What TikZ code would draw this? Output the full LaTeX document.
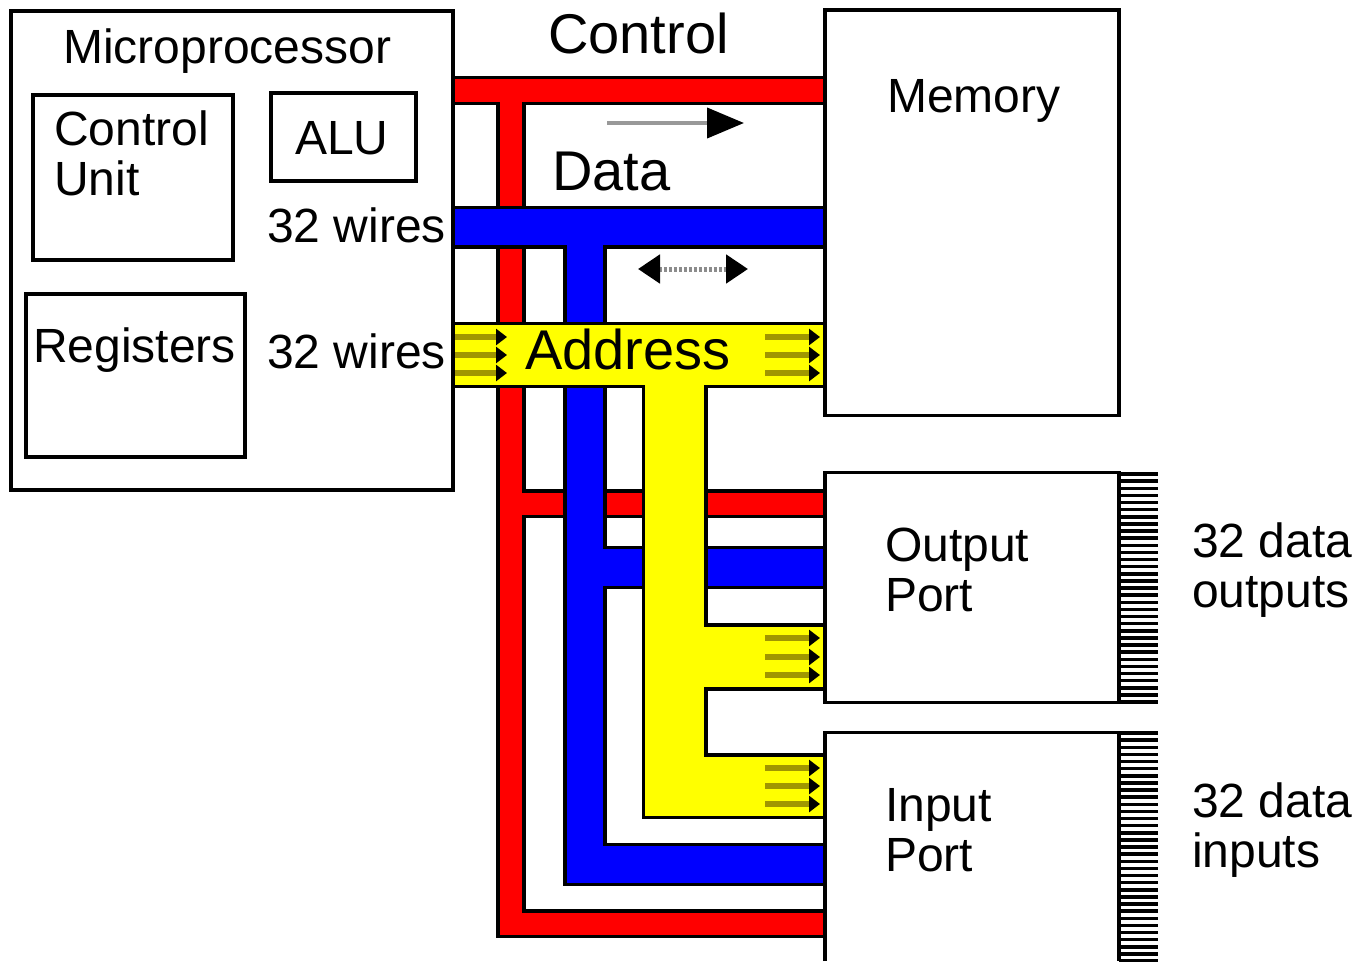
\documentclass[tikz,border=0pt]{standalone}
\usepackage{fontspec}
\setmainfont{Liberation Sans}
\usetikzlibrary{arrows.meta}

\definecolor{busred}{RGB}{255,0,0}
\definecolor{busblue}{RGB}{0,0,255}
\definecolor{busyellow}{RGB}{255,255,0}
\definecolor{wireolive}{RGB}{160,150,0}

\begin{document}
\begin{tikzpicture}[
    x=1pt, y=-1pt,
    box/.style={rectangle, draw, line width=3.3pt, inner sep=0pt},
    bus/.style={draw, line width=3.3pt, fill=#1, line join=miter},
    lbl/.style={anchor=base west, inner sep=0pt, align=left, font=\fontsize{48}{50}\selectfont},
    biglbl/.style={anchor=base west, inner sep=0pt, font=\fontsize{56}{60}\selectfont},
    wires/.style={wireolive, line width=5.5pt, -{Triangle[length=11pt,width=16pt,color=black]}},
    pin/.style={line width=3.5pt}
  ]
  \useasboundingbox (0,0) rectangle (1359,961);

  % buses: control, data, address
  \draw[bus=busred] (453,77.5) -- (825,77.5) -- (825,103.5) -- (524,103.5) -- (524,491)
    -- (825,491) -- (825,516.5) -- (524,516.5) -- (524,911) -- (825,911) -- (825,936.5)
    -- (498,936.5) -- (498,103.5) -- (453,103.5) -- cycle;
  \draw[bus=busblue] (453,207.5) -- (825,207.5) -- (825,247) -- (605,247) -- (605,547.5)
    -- (825,547.5) -- (825,587.5) -- (605,587.5) -- (605,844.5) -- (825,844.5) -- (825,884.5)
    -- (565,884.5) -- (565,247) -- (453,247) -- cycle;
  \draw[bus=busyellow] (453,323.5) -- (825,323.5) -- (825,386.5) -- (706,386.5) -- (706,625)
    -- (825,625) -- (825,689) -- (706,689) -- (706,755) -- (825,755) -- (825,817.5)
    -- (643.5,817.5) -- (643.5,386.5) -- (453,386.5) -- cycle;

  % boxes
  \node[box, minimum width=442pt, minimum height=479pt] (mp) at (232,250.5) {};
  \node[box, minimum width=200pt, minimum height=165pt] (cu) at (133,177.5) {};
  \node[box, minimum width=145pt, minimum height=88pt] (alu) at (343.5,137) {};
  \node[box, minimum width=219pt, minimum height=163pt] (reg) at (135.5,375.5) {};
  \node[box, minimum width=294pt, minimum height=405.5pt] (mem) at (972,212.75) {};
  \node[box, minimum width=294pt, minimum height=230pt] (outp) at (972,587.5) {};
  \draw[line width=3.3pt] (825,961) |- (1119,732.5) -- (1119,961);

  % pins
  \foreach \i in {0,...,32} {
    \draw[pin] (1119,474+7.125*\i) -- (1158,474+7.125*\i);
    \draw[pin] (1119,733+7.125*\i) -- (1158,733+7.125*\i);
  }

  % wire bundles
  \foreach \y in {337,355,373} {
    \draw[wires] (455,\y) -- (507,\y);
    \draw[wires] (765,\y) -- (820,\y);
  }
  \foreach \y in {638,657,675,768,786,804}
    \draw[wires] (765,\y) -- (820,\y);

  % direction arrows
  \draw[black!40, line width=4pt, -{Triangle[length=37pt,width=30pt,color=black]}] (607,123) -- (744,123);
  \draw[black!45, line width=5pt, dash pattern=on 3pt off 2pt,
    {Triangle[length=22pt,width=28pt,color=black]}-{Triangle[length=22pt,width=28pt,color=black]}] (638,269) -- (748,269);

  % labels
  \node[lbl] (tmp) at (63,63) {Microprocessor};
  \node[lbl] (tcu) at (54,195) {Control\\Unit};
  \node[lbl] (talu) at (295,154) {ALU};
  \node[lbl] (tw1) at (267,242) {32 wires};
  \node[lbl] (tw2) at (267,368) {32 wires};
  \node[lbl] (treg) at (33,362) {Registers};
  \node[biglbl] (tctl) at (548,53) {Control};
  \node[biglbl] (tdata) at (552,190) {Data};
  \node[biglbl] (taddr) at (525,369) {Address};
  \node[lbl] (tmem) at (887,112) {Memory};
  \node[lbl] (tout) at (885,611) {Output\\Port};
  \node[lbl] (tin) at (885,871) {Input\\Port};
  \node[lbl] (tdo) at (1192,607) {32 data\\outputs};
  \node[lbl] (tdi) at (1192,867) {32 data\\inputs};
\end{tikzpicture}
\end{document}
